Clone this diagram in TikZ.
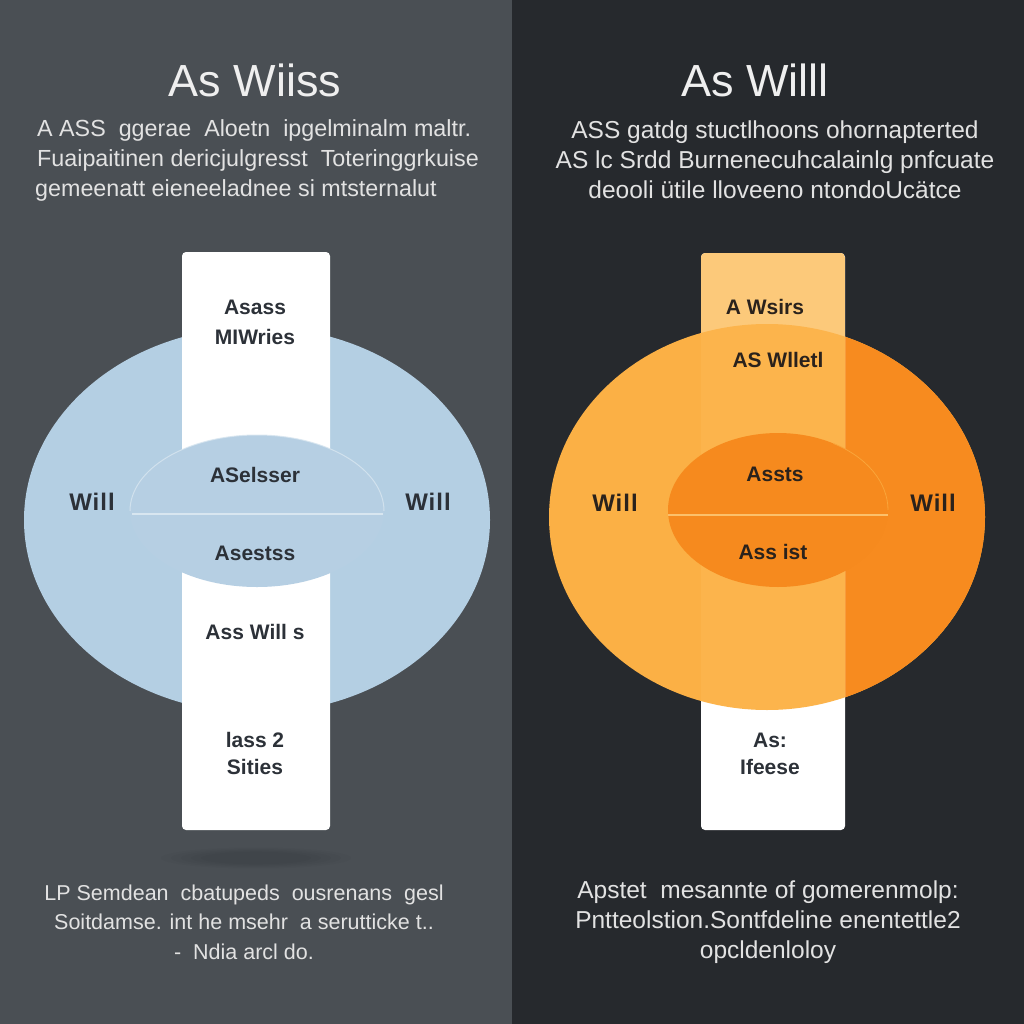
\documentclass[tikz,border=0pt]{standalone}
\usepackage{fontspec}
\setmainfont{Liberation Sans}
\newfontfamily\willfont[LetterSpace=4]{Liberation Sans}
\usetikzlibrary{calc}
\definecolor{panelL}{HTML}{4A4F54}
\definecolor{panelR}{HTML}{26292D}
\definecolor{titletxt}{HTML}{EFEFEF}
\definecolor{bodytxt}{HTML}{E2E2E2}
\definecolor{iceblue}{HTML}{B4CFE3}
\definecolor{iceinner}{HTML}{B6CFE3}
\definecolor{iceedge}{HTML}{D8E6F0}
\definecolor{orlight}{HTML}{FBB045}
\definecolor{ordark}{HTML}{F78B1F}
\definecolor{orinner}{HTML}{F68A1E}
\definecolor{orpeach}{HTML}{FCC97A}
\definecolor{orband}{HTML}{FCB44C}
\definecolor{lbldark}{HTML}{2C3138}
\definecolor{lblbrown}{HTML}{2A221C}
\tikzset{
  title/.style={text=titletxt, font=\fontsize{45}{50}\selectfont},
  para/.style={text=bodytxt, font=\fontsize{23.3}{30}\selectfont, inner sep=0pt},
  parabig/.style={para, font=\fontsize{24.5}{30}\selectfont},
  lbl/.style={text=lbldark, font=\bfseries\fontsize{21}{30}\selectfont, inner sep=0pt},
  lblo/.style={lbl, text=lblbrown},
  willlbl/.style={lbl, font=\willfont\bfseries\fontsize{24}{30}\selectfont},
  willo/.style={willlbl, text=lblbrown},
  bar/.style={fill=white, rounded corners=4pt},
}
\begin{document}
\begin{tikzpicture}[x=1pt,y=-1pt]
\useasboundingbox (0,0) rectangle (1024,1024);
% two background panels
\fill[panelL] (0,0) rectangle (512,1024);
\fill[panelR] (512,0) rectangle (1024,1024);

% ---------------- left panel ----------------
\node[title] (tl) at (255,80) {As Wiiss};
\node[para, anchor=west] (pl1) at (37,130) {A ASS \ ggerae \ Aloetn \ ipgelminalm maltr.};
\node[para, anchor=west] (pl2) at (37,160) {Fuaipaitinen dericjulgresst \ Toteringgrkuise};
\node[para, anchor=west] (pl3) at (35,190) {gemeenatt eieneeladnee si mtsternalut};

% soft shadow under the bar
\foreach \r in {95,85,75,65,55}{
  \fill[black, opacity=0.025] (256,858) ellipse (\r pt and {\r*0.11 pt});}

\fill[iceblue] (257,520) ellipse (233 and 193);
\fill[bar] (182,252) rectangle (330,830);
\fill[iceinner] (257,511) ellipse (127 and 76);
\draw[iceedge, line width=1pt, opacity=0.8] (257,511) ++(-127,0) arc (180:360:127 and 76);
\draw[iceedge, line width=1.6pt] (132,514) -- (383,514);

\node[lbl] (la) at (255,307) {Asass};
\node[lbl] (lb) at (255,337) {MIWries};
\node[willlbl] (lw1) at (92,502) {Will};
\node[willlbl] (lw2) at (428,502) {Will};
\node[lbl] (lc) at (255,475) {ASelsser};
\node[lbl] (ld) at (255,553) {Asestss};
\node[lbl] (le) at (255,632) {Ass Will s};
\node[lbl] (lf) at (255,740) {lass 2};
\node[lbl] (lg) at (255,767) {Sities};

\node[para, font=\fontsize{21.5}{29.5}\selectfont, align=center] (bl) at (244,922) {LP Semdean \ cbatupeds \ ousrenans \ gesl\\Soitdamse. int he msehr \ a serutticke t..\\-\ \ Ndia arcl do.};

% ---------------- right panel ----------------
\node[title] (tr) at (755,80) {As Willl};
\node[parabig, align=center] (pr) at (775,160) {ASS gatdg stuctlhoons ohornapterted\\AS lc Srdd Burnenecuhcalainlg pnfcuate\\deooli ütile lloveeno ntondoUcätce};

\fill[orlight] (767,517) ellipse (218 and 193);
\begin{scope}
  \clip (845,0) rectangle (1024,1024);
  \fill[ordark] (767,517) ellipse (218 and 193);
\end{scope}
\fill[bar] (701,253) rectangle (845,830);
\begin{scope}
  \clip[rounded corners=4pt] (701,253) rectangle (845,830);
  \fill[orpeach] (701,253) rectangle (845,520);
  \fill[orband] (767,517) ellipse (218 and 193);
\end{scope}
\fill[orinner] (778,510) ellipse (110 and 77);
\draw[orlight!80!white, line width=1.6pt] (668,515) -- (888,515);
\draw[orlight!70!ordark, line width=0.8pt] (778,510) ++(110,0) arc (0:-60:110 and 77);

\node[lblo] (ra) at (765,307) {A Wsirs};
\node[lblo] (rb) at (778,360) {AS Wlletl};
\node[willo] (rw1) at (615,503) {Will};
\node[willo] (rw2) at (933,503) {Will};
\node[lblo] (rc) at (775,474) {Assts};
\node[lblo] (rd) at (773,552) {Ass ist};
\node[lbl] (re) at (770,740) {As:};
\node[lbl] (rf) at (770,767) {Ifeese};

\node[parabig, align=center] (br) at (768,922) {Apstet \ mesannte of gomerenmolp:\\Pntteolstion.Sontfdeline enentettle2\\opcldenloloy};
\end{tikzpicture}
\end{document}
